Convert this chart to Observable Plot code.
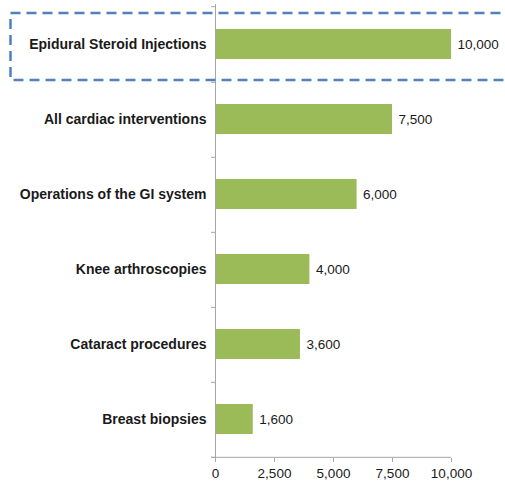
<!DOCTYPE html>
<html><head><meta charset="utf-8">
<script src="https://cdn.jsdelivr.net/npm/d3@7"></script>
<script src="https://cdn.jsdelivr.net/npm/@observablehq/plot@0.6"></script>
<style>
body{margin:0;background:#fff}
#chart{position:relative;width:505px;height:485px;overflow:hidden}
</style>
</head><body><div id="chart"></div>
<script>
const categories = [
  "Epidural Steroid Injections",
  "All cardiac interventions",
  "Operations of the GI system",
  "Knee arthroscopies",
  "Cataract procedures",
  "Breast biopsies"
];
const values = [10000, 7500, 6000, 4000, 3600, 1600];
const xTicks = [0, 2500, 5000, 7500, 10000];
const highlighted = "Epidural Steroid Injections";

const data = categories.map((c, i) => ({category: c, value: values[i]}));
const fmt = d3.format(",");

const W = 505, H = 485, mT = 4, mB = 27, mL = 215, mR = 54;
const step = (H - mT - mB) / categories.length;
const axisColor = "#a6a6a6";
const textColor = "#1a1a1a";

const plot = Plot.plot({
  width: W, height: H,
  marginTop: mT, marginBottom: mB, marginLeft: mL, marginRight: mR,
  style: {fontFamily: "'Liberation Sans', Arial, sans-serif", fontSize: "13.5px", color: textColor, background: "#fff", overflow: "visible"},
  x: {domain: [0, 10000]},
  y: {domain: categories, paddingInner: 0.6, paddingOuter: 0.3},
  marks: [
    Plot.barX(data, {x: "value", y: "category", fill: "#9bbb59"}),
    Plot.ruleX([0], {stroke: axisColor}),
    Plot.ruleY(categories, {y: d => d, dy: step / 2, x1: 0, x2: 0, insetLeft: -4, stroke: axisColor}),
    Plot.ruleY([categories[0]], {y: d => d, dy: -step / 2, x1: 0, x2: 0, insetLeft: -4, stroke: axisColor}),
    Plot.ruleY([categories[categories.length - 1]], {y: d => d, dy: step / 2, x1: 0, x2: 10000, insetLeft: -4, stroke: axisColor}),
    Plot.text(data, {x: "value", y: "category", text: d => fmt(d.value), dx: 6, textAnchor: "start", fill: textColor, fontSize: 13.5}),
    Plot.axisX({ticks: xTicks, tickFormat: fmt, tickSize: 4, tickPadding: 6, stroke: axisColor, fill: textColor, fontSize: 13.5, label: null}),
    Plot.axisY({tickSize: 0, tickPadding: 9, fontWeight: "bold", fontSize: 14, fill: textColor, label: null})
  ]
});

// dashed highlight box around the first category
const ys = plot.scale("y");
const bandStart = ys.apply(highlighted);
const bw = ys.bandwidth;
d3.select(plot).append("rect")
  .attr("x", 10.5)
  .attr("y", bandStart - 16)
  .attr("width", W + 20)
  .attr("height", bw + 37)
  .attr("fill", "none")
  .attr("stroke", "#4f81bd")
  .attr("stroke-width", 2.5)
  .attr("stroke-dasharray", "10,6");

document.getElementById("chart").appendChild(plot);
</script>
</body></html>
